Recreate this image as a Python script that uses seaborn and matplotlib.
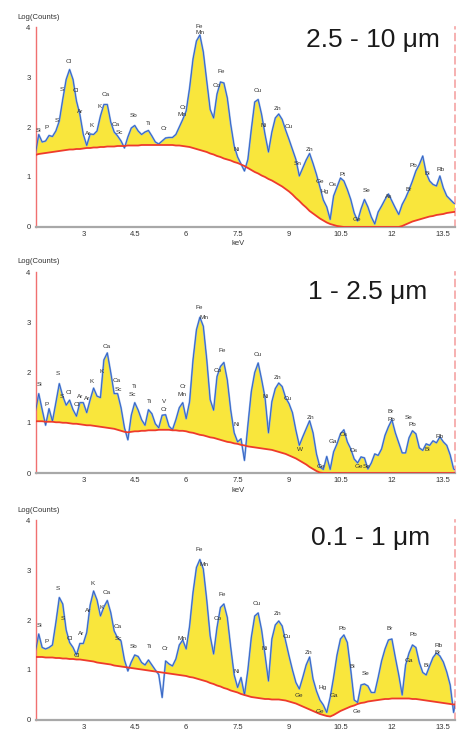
import numpy as np
import pandas as pd
import matplotlib
matplotlib.use("Agg")
import matplotlib.pyplot as plt
import seaborn as sns

# ---------------- data ----------------
# energy channels (keV), 0.1 keV spacing
energy_kev = np.arange(16, 140) / 10.0

titles = ["2.5 - 10 \u03bcm", "1 - 2.5 \u03bcm", "0.1 - 1 \u03bcm"]

x_ticks = [3, 4.5, 6, 7.5, 9, 10.5, 12, 13.5]
x_tick_labels = ["3", "4.5", "6", "7.5", "9", "10.5", "12", "13.5"]
y_ticks = [0, 1, 2, 3, 4]
y_tick_labels = ["0", "1", "2", "3", "4"]

# log(counts) spectra
spec_p1 = [
    1.45, 1.85, 1.70, 1.72, 1.83, 1.81, 1.92, 2.12, 2.55, 2.95,
    3.15, 2.95, 2.52, 2.25, 1.85, 1.63, 1.86, 1.85, 1.92, 2.22,
    2.45, 2.45, 2.10, 1.90, 1.82, 1.72, 1.58, 1.80, 1.98, 2.03,
    1.92, 1.85, 1.90, 1.93, 1.82, 1.70, 1.66, 1.72, 1.78, 1.79,
    1.79, 1.85, 2.00, 2.15, 2.32, 2.78, 3.36, 3.72, 3.84, 3.50,
    2.92, 2.35, 2.18, 2.66, 2.90, 2.88, 2.58, 2.05, 1.62, 1.40,
    1.26, 1.12, 1.35, 1.95, 2.50, 2.55, 2.25, 1.85, 1.50, 1.90,
    2.18, 2.26, 2.15, 1.94, 1.75, 1.55, 1.35, 1.02, 1.18, 1.34,
    1.47, 1.27, 1.05, 0.80, 0.54, 0.40, 0.15, 0.62, 0.80, 0.98,
    0.92, 0.75, 0.55, 0.28, 0.12, 0.36, 0.55, 0.40, 0.20, 0.06,
    0.30, 0.42, 0.55, 0.66, 0.52, 0.38, 0.25, 0.45, 0.58, 0.74,
    0.92, 1.12, 1.25, 1.42, 1.08, 0.92, 0.85, 0.82, 1.02, 0.78,
    0.62, 0.55, 0.48, 0.45,
]
bg_p1 = [
    1.44, 1.46, 1.47, 1.48, 1.49, 1.50, 1.51, 1.52, 1.53, 1.54,
    1.55, 1.55, 1.56, 1.56, 1.57, 1.58, 1.58, 1.59, 1.59, 1.60,
    1.60, 1.61, 1.61, 1.61, 1.62, 1.62, 1.62, 1.63, 1.63, 1.63,
    1.63, 1.64, 1.64, 1.64, 1.64, 1.64, 1.64, 1.64, 1.64, 1.64,
    1.64, 1.63, 1.63, 1.62, 1.61, 1.60, 1.58, 1.56, 1.54, 1.52,
    1.50, 1.47, 1.45, 1.42, 1.40, 1.37, 1.35, 1.33, 1.30, 1.28,
    1.25, 1.22, 1.18, 1.14, 1.10, 1.07, 1.03, 1.00, 0.96, 0.93,
    0.89, 0.85, 0.81, 0.76, 0.71, 0.65, 0.58, 0.52, 0.45, 0.39,
    0.32, 0.27, 0.22, 0.17, 0.13, 0.09, 0.06, 0.04, 0.02, 0.01,
    0.00, 0.00, 0.00, 0.00, 0.00, 0.00, 0.00, 0.00, 0.00, 0.00,
    0.00, 0.00, 0.00, 0.00, 0.00, 0.00, 0.00, 0.02, 0.05, 0.08,
    0.11, 0.13, 0.15, 0.17, 0.19, 0.21, 0.22, 0.24, 0.25, 0.26,
    0.28, 0.29, 0.30, 0.31,
]

spec_p2 = [
    1.20, 1.58, 1.26, 0.95, 1.28, 1.03, 1.40, 1.78, 1.53, 1.35,
    1.45, 1.26, 1.13, 1.40, 1.40, 1.20, 1.46, 1.69, 1.53, 1.50,
    2.25, 2.39, 2.00, 1.58, 1.58, 1.30, 0.90, 0.66, 1.15, 1.40,
    1.25, 1.06, 0.95, 1.26, 1.18, 0.98, 0.90, 1.15, 1.16, 0.93,
    0.86, 1.06, 1.30, 1.40, 1.08, 1.42, 2.25, 2.85, 3.10, 2.92,
    2.26, 1.46, 1.25, 1.92, 2.12, 2.20, 1.85, 1.25, 0.80, 0.62,
    0.68, 0.25, 0.95, 1.62, 2.00, 2.19, 1.86, 1.50, 0.80, 1.42,
    1.68, 1.79, 1.72, 1.50, 1.38, 1.20, 0.85, 0.55, 0.72, 0.88,
    1.04, 0.80, 0.38, 0.12, 0.07, 0.33, 0.07, 0.42, 0.58, 0.78,
    0.86, 0.62, 0.48, 0.28, 0.20, 0.32, 0.30, 0.08, 0.20, 0.38,
    0.35, 0.48, 0.75, 0.92, 1.06, 0.80, 0.60, 0.40, 0.40, 0.70,
    0.84, 0.78, 0.50, 0.45, 0.58, 0.55, 0.64, 0.60, 0.72, 0.62,
    0.55, 0.36, 0.08, 0.05,
]
bg_p2 = [
    1.03, 1.03, 1.03, 1.02, 1.02, 1.02, 1.01, 1.01, 1.00, 1.00,
    0.99, 0.98, 0.98, 0.97, 0.96, 0.95, 0.95, 0.94, 0.93, 0.92,
    0.91, 0.90, 0.89, 0.88, 0.86, 0.84, 0.82, 0.81, 0.82, 0.83,
    0.83, 0.84, 0.84, 0.85, 0.85, 0.85, 0.86, 0.86, 0.86, 0.86,
    0.85, 0.85, 0.84, 0.84, 0.83, 0.81, 0.80, 0.78, 0.76, 0.75,
    0.73, 0.71, 0.70, 0.68, 0.66, 0.64, 0.62, 0.61, 0.59, 0.58,
    0.56, 0.55, 0.53, 0.52, 0.51, 0.50, 0.49, 0.48, 0.47, 0.46,
    0.44, 0.42, 0.40, 0.38, 0.35, 0.32, 0.29, 0.25, 0.21, 0.17,
    0.12, 0.08, 0.04, 0.01, 0.00, 0.00, 0.00, 0.00, 0.00, 0.00,
    0.00, 0.00, 0.00, 0.00, 0.00, 0.00, 0.00, 0.00, 0.00, 0.00,
    0.00, 0.00, 0.00, 0.00, 0.00, 0.00, 0.00, 0.00, 0.00, 0.00,
    0.00, 0.00, 0.00, 0.00, 0.00, 0.00, 0.00, 0.00, 0.00, 0.00,
    0.00, 0.00, 0.00, 0.00,
]

spec_p3 = [
    1.35, 1.72, 1.45, 1.42, 1.45, 1.50, 1.95, 2.45, 2.32, 1.80,
    1.55, 1.45, 1.30, 1.53, 1.53, 1.75, 2.30, 2.58, 2.40, 2.08,
    2.26, 2.39, 2.15, 1.78, 1.64, 1.58, 1.20, 0.98, 1.16, 1.30,
    1.27, 1.15, 1.10, 1.20, 1.10, 1.00, 0.91, 0.45, 1.18, 1.12,
    1.08, 1.22, 1.50, 1.60, 1.42, 1.88, 2.55, 3.05, 3.21, 3.02,
    2.40, 1.68, 1.32, 1.85, 2.25, 2.32, 2.05, 1.45, 0.90, 0.65,
    0.85, 0.50, 1.00, 1.65, 2.08, 2.14, 1.80, 1.30, 0.78, 1.62,
    1.90, 1.98, 1.88, 1.58, 1.28, 1.00, 0.75, 0.62, 0.85, 1.10,
    1.26, 0.82, 0.58, 0.40, 0.30, 0.15, 0.45, 0.85, 1.30, 1.62,
    1.70, 1.55, 1.00, 0.40, 0.35, 0.70, 0.72, 0.68, 0.55, 0.55,
    0.85, 1.18, 1.42, 1.60, 1.62, 1.25, 0.90, 0.50, 1.10, 1.34,
    1.50, 1.45, 1.15, 0.95, 0.90, 1.08, 1.25, 1.34, 1.28, 1.16,
    0.96, 0.70, 0.15, 0.55,
]
bg_p3 = [
    1.26, 1.26, 1.26, 1.25, 1.25, 1.25, 1.24, 1.24, 1.23, 1.23,
    1.22, 1.22, 1.21, 1.21, 1.20, 1.19, 1.18, 1.17, 1.15, 1.14,
    1.13, 1.12, 1.11, 1.09, 1.08, 1.07, 1.06, 1.05, 1.04, 1.03,
    1.02, 1.01, 1.00, 0.99, 0.98, 0.97, 0.96, 0.95, 0.94, 0.93,
    0.92, 0.91, 0.90, 0.89, 0.88, 0.86, 0.85, 0.83, 0.81, 0.79,
    0.77, 0.74, 0.72, 0.69, 0.67, 0.64, 0.62, 0.59, 0.57, 0.55,
    0.52, 0.50, 0.48, 0.46, 0.45, 0.44, 0.43, 0.42, 0.42, 0.41,
    0.41, 0.41, 0.40, 0.39, 0.37, 0.35, 0.33, 0.30, 0.27, 0.24,
    0.21, 0.18, 0.15, 0.12, 0.10, 0.08, 0.07, 0.10, 0.14, 0.18,
    0.21, 0.24, 0.27, 0.29, 0.32, 0.34, 0.35, 0.37, 0.38, 0.39,
    0.40, 0.41, 0.42, 0.42, 0.43, 0.43, 0.43, 0.43, 0.43, 0.43,
    0.42, 0.42, 0.41, 0.40, 0.39, 0.38, 0.37, 0.36, 0.35, 0.34,
    0.33, 0.32, 0.31, 0.31,
]

# peak identification labels (element, keV, log counts)
p1_names = ["Si", "P", "S", "S", "Cl", "Cl", "Ar", "Ar", "K", "K",
            "Ca", "Ca", "Sc", "Sb", "Ti", "Cr", "Mn", "Cr", "Fe", "Mn",
            "Co", "Fe", "Ni", "Cu", "Ni", "Zn", "Cu", "Sn", "Zn", "Ge",
            "Hg", "Os", "Pt", "Ge", "Se", "As", "Br", "Pb", "Bi", "Rb"]
p1_x = [1.69, 1.93, 2.22, 2.37, 2.58, 2.79, 2.90, 3.15, 3.24, 3.49,
        3.66, 3.93, 4.04, 4.46, 4.90, 5.36, 5.87, 5.92, 6.39, 6.41,
        6.89, 7.01, 7.48, 8.08, 8.26, 8.68, 8.99, 9.26, 9.60, 9.89,
        10.04, 10.28, 10.57, 10.98, 11.25, 11.92, 12.50, 12.63, 13.02, 13.42]
p1_y = [1.94, 1.99, 2.13, 2.75, 3.31, 2.73, 2.31, 1.87, 2.04, 2.41,
        2.65, 2.06, 1.90, 2.24, 2.07, 1.97, 2.25, 2.39, 4.02, 3.89,
        2.84, 3.11, 1.54, 2.74, 2.04, 2.37, 2.01, 1.27, 1.54, 0.91,
        0.71, 0.84, 1.04, 0.14, 0.73, 0.61, 0.74, 1.22, 1.07, 1.14]

p2_names = ["Si", "P", "S", "S", "Cl", "Cl", "Ar", "Ar", "K", "K",
            "Ca", "Ca", "Sc", "Ti", "Sc", "Ti", "V", "Cr", "Cr", "Mn",
            "Fe", "Mn", "Co", "Fe", "Ni", "Cu", "Ni", "Zn", "Cu", "W",
            "Zn", "Ge", "Ga", "Os", "Os", "Ge", "Se", "Br", "Pb", "Se",
            "Pb", "Bi", "Rb"]
p2_x = [1.71, 1.93, 2.27, 2.37, 2.58, 2.81, 2.90, 3.12, 3.24, 3.52,
        3.68, 3.97, 4.02, 4.49, 4.44, 4.92, 5.37, 5.34, 5.92, 5.87,
        6.39, 6.51, 6.91, 7.04, 7.48, 8.10, 8.31, 8.68, 8.95, 9.31,
        9.62, 9.94, 10.28, 10.60, 10.89, 11.03, 11.25, 11.97, 11.99, 12.50,
        12.60, 13.04, 13.38]
p2_y = [1.76, 1.36, 1.99, 1.53, 1.61, 1.36, 1.53, 1.49, 1.83, 2.03,
        2.52, 1.84, 1.66, 1.73, 1.56, 1.43, 1.43, 1.27, 1.73, 1.56,
        3.29, 3.10, 2.05, 2.43, 0.96, 2.36, 1.53, 1.91, 1.48, 0.47,
        1.10, 0.13, 0.63, 0.76, 0.45, 0.13, 0.13, 1.23, 1.07, 1.10,
        0.97, 0.47, 0.73]

p3_names = ["Si", "P", "S", "S", "Cl", "Cl", "Ar", "Ar", "K", "K",
            "Ca", "Ca", "Sc", "Sb", "Ti", "Cr", "Mn", "Fe", "Mn", "Co",
            "Fe", "Ni", "Cu", "Ni", "Zn", "Cu", "Ge", "Zn", "Hg", "Ge",
            "Ga", "Pb", "Bi", "Ge", "Se", "Br", "Ga", "Pb", "Bi", "Br",
            "Rb"]
p3_x = [1.71, 1.93, 2.27, 2.40, 2.61, 2.81, 2.95, 3.15, 3.27, 3.52,
        3.68, 3.99, 4.02, 4.46, 4.93, 5.37, 5.87, 6.39, 6.52, 6.91,
        7.04, 7.48, 8.06, 8.28, 8.66, 8.93, 9.29, 9.58, 9.99, 9.90,
        10.30, 10.57, 10.84, 10.99, 11.22, 11.93, 12.50, 12.62, 12.99, 13.33,
        13.37]
p3_y = [1.89, 1.57, 2.64, 2.03, 1.63, 1.30, 1.73, 2.19, 2.73, 2.26,
        2.55, 1.88, 1.63, 1.47, 1.48, 1.43, 1.63, 3.41, 3.11, 2.03,
        2.51, 0.97, 2.34, 1.43, 2.13, 1.68, 0.48, 1.35, 0.64, 0.16,
        0.48, 1.84, 1.07, 0.16, 0.93, 1.83, 1.20, 1.72, 1.10, 1.35,
        1.50]

panels = [
    (titles[0], spec_p1, bg_p1, p1_names, p1_x, p1_y),
    (titles[1], spec_p2, bg_p2, p2_names, p2_x, p2_y),
    (titles[2], spec_p3, bg_p3, p3_names, p3_x, p3_y),
]

# ---------------- style / layout ----------------
sns.set_style("white")
plt.rcParams["font.family"] = ["Liberation Sans", "DejaVu Sans"]

YELLOW = "#f9e63c"
BLUE_HALO = "#86aae8"
BLUE = "#2f5fbf"
RED = "#ee3b2b"
TEXT = "#333333"

fig = plt.figure(figsize=(4.73, 7.32), dpi=100)
positions = [
    [0.0761, 0.6899, 0.8858, 0.2732],
    [0.0761, 0.3538, 0.8858, 0.2746],
    [0.0761, 0.0164, 0.8858, 0.2732],
]
title_xy = [(0.964, 0.935), (0.933, 0.900), (0.940, 0.910)]

minor_y = [n + np.log10(k) for n in range(4) for k in range(2, 10)]

for i, (title, spec, bg, names, lx, ly) in enumerate(panels):
    ax = fig.add_axes(positions[i])
    df = pd.DataFrame({"keV": energy_kev, "spec": spec, "bg": bg})

    ax.fill_between(df["keV"], df["bg"], df["spec"],
                    where=df["spec"] >= df["bg"], interpolate=True,
                    color=YELLOW, lw=0, zorder=1)
    sns.lineplot(data=df, x="keV", y="spec", ax=ax, color=BLUE_HALO,
                 lw=1.4, zorder=2)
    sns.lineplot(data=df, x="keV", y="spec", ax=ax, color=BLUE,
                 lw=0.6, zorder=3)
    sns.lineplot(data=df, x="keV", y="bg", ax=ax, color=RED,
                 lw=1.3, zorder=4)

    ax.set_xlim(1.62, 13.84)
    ax.set_ylim(0, 4)
    ax.set_xlabel("")
    ax.set_ylabel("")

    ax.set_xticks(x_ticks)
    ax.set_xticklabels(x_tick_labels)
    ax.set_yticks(y_ticks)
    ax.set_yticklabels(y_tick_labels)
    ax.set_yticks(minor_y, minor=True)

    ax.tick_params(axis="x", which="major", direction="in", length=2,
                   width=0.6, color="#888888", labelsize=5.5,
                   labelcolor=TEXT, pad=3)
    ax.tick_params(axis="y", which="major", direction="in", length=3.5,
                   width=0.6, color="#888888", labelsize=5.5,
                   labelcolor=TEXT, pad=4)
    ax.tick_params(axis="y", which="minor", direction="in", length=1.8,
                   width=0.5, color="#999999")

    ax.spines["top"].set_visible(False)
    ax.spines["left"].set_color("#f07070")
    ax.spines["left"].set_linewidth(1.0)
    ax.spines["bottom"].set_color("#a8a8a8")
    ax.spines["bottom"].set_linewidth(1.6)
    ax.spines["right"].set_color("#f5a3a3")
    ax.spines["right"].set_linewidth(1.2)
    ax.spines["right"].set_linestyle((0, (4, 3)))

    ax.text(0.007, 1.05, "Log(Counts)", transform=ax.transAxes,
            ha="center", va="center", fontsize=5.5, color=TEXT)
    if i < 2:
        ax.text(0.482, -0.085, "keV", transform=ax.transAxes,
                ha="center", va="center", fontsize=5.5, color=TEXT)

    tx, ty = title_xy[i]
    ax.text(tx, ty, title, transform=ax.transAxes, ha="right", va="center",
            fontsize=19, color="#1a1a1a")

    for name, x, y in zip(names, lx, ly):
        ax.text(x, y, name, ha="center", va="center", fontsize=4.6,
                color=TEXT, zorder=6)

fig.savefig("out.png", dpi=100)
